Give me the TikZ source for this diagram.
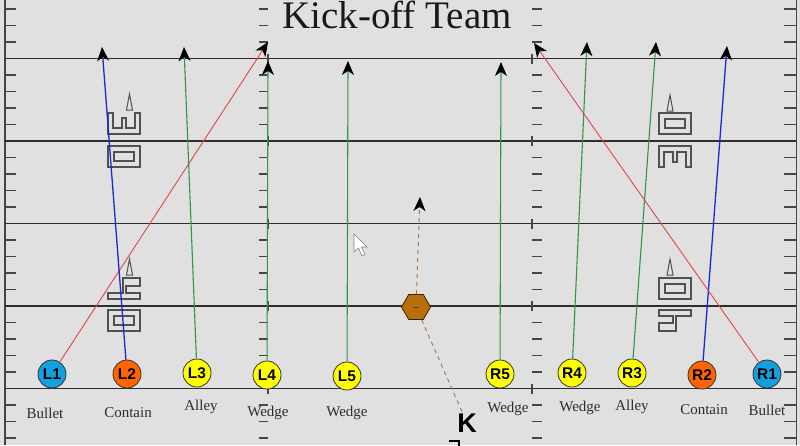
\documentclass[tikz,border=0pt]{standalone}
\usepackage{fontspec}
\setmainfont{Liberation Serif}
\newfontfamily\arialfont{Liberation Sans}
\usetikzlibrary{arrows.meta,shapes.geometric}
\definecolor{bg}{RGB}{224,224,224}
\definecolor{fieldline}{RGB}{45,45,45}
\definecolor{tickc}{RGB}{70,70,70}
\definecolor{pblue}{RGB}{20,160,220}
\definecolor{porange}{RGB}{255,100,0}
\definecolor{pyellow}{RGB}{255,255,0}
\definecolor{rred}{RGB}{225,70,70}
\definecolor{rblue}{RGB}{30,40,210}
\definecolor{rgreen}{RGB}{50,150,70}
\definecolor{ballc}{RGB}{185,110,10}
\definecolor{kdashc}{RGB}{170,120,80}
\definecolor{numc}{RGB}{80,80,80}
\definecolor{rolec}{RGB}{45,45,45}
\tikzset{
  player/.style={circle, minimum size=28pt, inner sep=0pt, draw=black!80, line width=0.8pt,
    font=\arialfont\bfseries\fontsize{15.5}{15.5}\selectfont},
  role/.style={font=\fontsize{15}{15}\selectfont, text=rolec, inner sep=0pt},
  route/.style={line width=1.1pt, -{Stealth[length=14pt,width=12pt,inset=4pt,black]}},
  hashmark/.style={draw=tickc, line width=1.2pt},
  yline/.style={draw=fieldline, line width=1.3pt},
  yardnum/.style={draw=numc, line width=1.2pt},
  kdash/.style={draw=kdashc, line width=1pt, dash pattern=on 4pt off 4pt},
  digthree/.pic={\draw[yardnum] (0,21)--(32,21)--(32,0)--(27,0)--(27,15)--(18,15)--(18,5)--(14,5)--(14,15)--(5,15)--(5,0)--(0,0)--cycle;},
  digzero/.pic={\draw[yardnum] (0,0) rectangle (32,21) (6,6) rectangle (26,15);},
  digfour/.pic={\draw[yardnum] (0,15)--(15,15)--(15,0)--(32,0)--(32,8)--(18,8)--(18,15)--(32,15)--(32,21)--(0,21)--cycle;},
  spike/.pic={\draw[yardnum, line width=1pt] (-3,0)--(3,0)--(0,-16)--cycle;}
}
\begin{document}
\begin{tikzpicture}[x=1pt,y=-1pt]
\useasboundingbox (0,0) rectangle (800,445);
\fill[bg] (0,0) rectangle (800,445);
% borders
\draw[hashmark] (5,0) -- (5,445);
\draw[hashmark, line width=0.8pt] (796,0) -- (796,445);
% hash marks and yard lines
\foreach \k in {0,...,26}{
  \pgfmathtruncatemacro\m{mod(\k,5)}
  \pgfmathsetmacro\yy{9+16.5*\k}
  \ifnum\m=3
    \draw[yline] (5,\yy) -- (796,\yy);
    \draw[hashmark] (268,\yy-5) -- (268,\yy+5);
    \draw[hashmark] (532,\yy-5) -- (532,\yy+5);
  \else
    \draw[hashmark] (5,\yy) -- (16,\yy);
    \draw[hashmark] (259,\yy) -- (268,\yy);
    \draw[hashmark] (532,\yy) -- (542,\yy);
    \draw[hashmark] (784,\yy) -- (796,\yy);
  \fi
}
% yard numbers
\pic at (108,113) {digthree};
\pic at (108,146) {digzero};
\pic at (129.5,110) {spike};
\pic at (108,278) {digfour};
\pic at (108,310) {digzero};
\pic at (129.5,275) {spike};
\pic[rotate=180] at (691,134) {digzero};
\pic[rotate=180] at (691,167) {digthree};
\pic at (670,111) {spike};
\pic[rotate=180] at (691,299) {digzero};
\pic[rotate=180] at (691,331) {digfour};
\pic at (670,275) {spike};
% title
\node[anchor=base, inner sep=0pt, font=\fontsize{39}{39}\selectfont, text=black!90] (title) at (397,28) {Kick-off Team};
% players
\node[player, fill=pblue] (L1) at (52,374) {L1};
\node[player, fill=porange] (L2) at (127,374) {L2};
\node[player, fill=pyellow] (L3) at (197,373) {L3};
\node[player, fill=pyellow] (L4) at (267,375) {L4};
\node[player, fill=pyellow] (L5) at (347,376) {L5};
\node[player, fill=pyellow] (R5) at (500,374) {R5};
\node[player, fill=pyellow] (R4) at (572,373) {R4};
\node[player, fill=pyellow] (R3) at (632,373) {R3};
\node[player, fill=porange] (R2) at (702,375) {R2};
\node[player, fill=pblue] (R1) at (767,374) {R1};
% roles
\node[role] (tL1) at (45,413) {Bullet};
\node[role] (tL2) at (128,413) {Contain};
\node[role] (tL3) at (201,407) {Alley};
\node[role] (tL4) at (268,413) {Wedge};
\node[role] (tL5) at (347,413) {Wedge};
\node[role] (tR5) at (508,409) {Wedge};
\node[role] (tR4) at (580,408) {Wedge};
\node[role] (tR3) at (632,407) {Alley};
\node[role] (tR2) at (704,410) {Contain};
\node[role] (tR1) at (767,410) {Bullet};
% route ends
\coordinate (eL1) at (268,42);
\coordinate (eL2) at (102,47);
\coordinate (eL3) at (184,47);
\coordinate (eL4) at (268,61);
\coordinate (eL5) at (348,61);
\coordinate (eR5) at (501,62);
\coordinate (eR4) at (587,42);
\coordinate (eR3) at (656,42);
\coordinate (eR2) at (727,46);
\coordinate (eR1) at (534,43);
\draw[route, rred, line width=0.9pt] (L1) -- (eL1);
\draw[route, rblue, line width=1.3pt] (L2) -- (eL2);
\draw[route, rgreen] (L3) -- (eL3);
\draw[route, rgreen] (L4) -- (eL4);
\draw[route, rgreen] (L5) -- (eL5);
\draw[route, rgreen] (R5) -- (eR5);
\draw[route, rgreen] (R4) -- (eR4);
\draw[route, rgreen] (R3) -- (eR3);
\draw[route, rblue, line width=1.3pt] (R2) -- (eR2);
\draw[route, rred, line width=0.9pt] (R1) -- (eR1);
% kicker
\node[regular polygon, regular polygon sides=6, minimum size=29pt, inner sep=0pt, fill=ballc, draw=black!70!ballc, line width=0.8pt] (ball) at (416,307) {};
\draw[black!70, line width=1pt] ([xshift=-3pt]ball.center) -- ([xshift=3pt]ball.center);
\node[inner sep=1pt, font=\arialfont\bfseries\fontsize{27}{27}\selectfont] (K) at (467,423) {K};
\coordinate (kUp) at (420,197);
\draw[kdash, -{Stealth[length=14pt,width=12pt,inset=4pt,black]}] (ball) -- (kUp);
\draw[kdash] (ball) -- (K);
\draw[black, line width=2.5pt] (449,441) -- (459,441) -- (459,446);
% cursor
\draw[fill=white, draw=black!50, line width=0.6pt] (354,234) -- ++(0,18) -- ++(4.5,-4) -- ++(3.5,8) -- ++(3,-1.5) -- ++(-3.5,-7.5) -- ++(5.5,0) -- cycle;
\end{tikzpicture}
\end{document}
